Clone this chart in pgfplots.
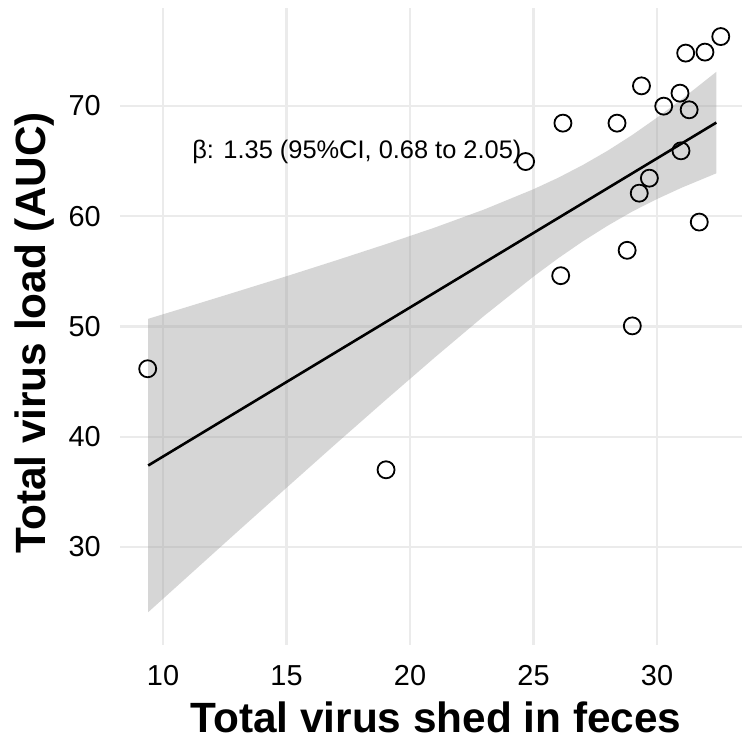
\documentclass[border=0pt]{standalone}
\usepackage{pgfplots}
\pgfplotsset{compat=1.18}
\usepackage{fontspec}
\setmainfont{Liberation Sans}

\begin{document}
\begin{tikzpicture}
\useasboundingbox (0,0) rectangle (742bp,742bp);
\begin{axis}[
    at={(120bp,97bp)}, anchor=south west,
    scale only axis,
    width=622bp, height=637bp,
    xmin=8.259, xmax=33.44,
    ymin=21.115, ymax=78.87,
    xtick={10,15,20,25,30},
    ytick={30,40,50,60,70},
    axis line style={draw=none},
    major tick length=0pt,
    tick style={draw=none},
    grid=major,
    major grid style={color=black!8, line width=2.4bp},
    /pgf/number format/assume math mode=true,
    ticklabel style={font=\fontsize{29}{29}\selectfont, inner sep=0pt},
    xticklabel style={anchor=north, yshift=-20bp},
    yticklabel style={anchor=east, xshift=-19bp},
    xlabel={Total virus shed in feces},
    ylabel={Total virus load (AUC)},
    label style={font=\fontsize{42.5}{42.5}\selectfont\bfseries, inner sep=0pt},
    xlabel style={at={(axis description cs:0.508,-0.137)}, anchor=base},
    ylabel style={at={(axis description cs:-0.12,0.49)}, anchor=base},
]
% 95% confidence band of the linear fit
\addplot[draw=none, fill=black!40, fill opacity=0.4] coordinates {
  (9.4,50.69) (11,51.78) (13,53.16) (15,54.55) (17,55.98) (19,57.44)
  (21,58.96) (23,60.60) (25,62.44) (26,63.48) (27,64.64) (28,65.93)
  (29,67.36) (30,68.93) (31,70.60) (32.4,73.08)
  (32.4,63.88) (31,62.58) (30,61.55) (29,60.42) (28,59.13) (27,57.72)
  (26,56.18) (25,54.52) (23,50.96) (21,47.18) (19,43.30) (17,39.36)
  (15,35.37) (13,31.36) (11,27.32) (9.4,24.09)
} -- cycle;
% fitted line
\addplot[black, line width=2.6bp] coordinates {(9.4,37.39) (32.4,68.48)};
% observations
\addplot[only marks, mark=o, mark size=8.5bp, mark options={line width=1.8bp, black}] coordinates {
  (32.58,76.28) (31.94,74.87) (31.16,74.78) (29.37,71.81) (30.93,71.15)
  (30.27,69.97) (31.30,69.64) (26.19,68.43) (28.38,68.43) (24.68,64.95)
  (30.97,65.92) (29.69,63.44) (29.28,62.08) (31.71,59.46) (28.79,56.90)
  (26.10,54.60) (29.00,50.05) (9.38,46.16) (19.03,37.00)
};
\node[anchor=base, inner sep=0pt, font=\fontsize{25.5}{25.5}\selectfont] at (axis cs:17.85,65.26) {β: 1.35 (95\%CI, 0.68 to 2.05)};
\end{axis}
\end{tikzpicture}
\end{document}
